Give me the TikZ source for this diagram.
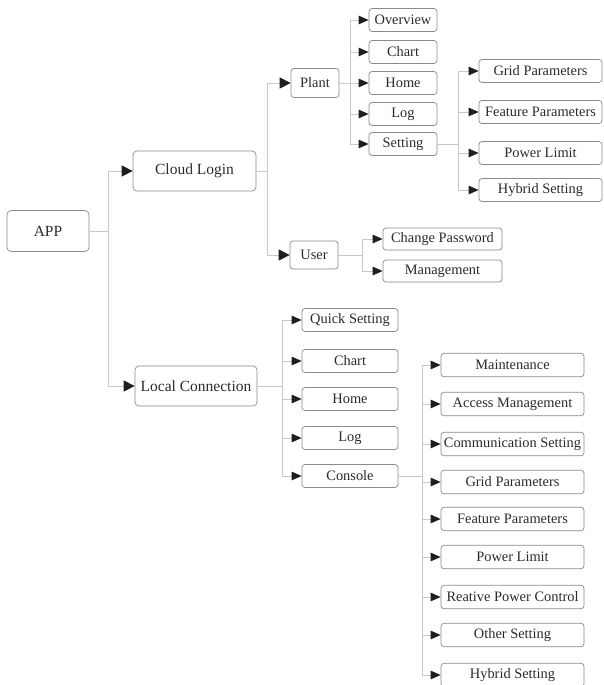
\documentclass[tikz,border=0pt]{standalone}
\usepackage{fontspec}
\setmainfont{Liberation Serif}
\usepackage{tikz}
\usetikzlibrary{arrows.meta}
\definecolor{appink}{HTML}{2B2B2B}
\definecolor{appframe}{HTML}{8A8A8A}
\definecolor{appline}{HTML}{C8C8C8}
\definecolor{apptip}{HTML}{1E1E1E}

\begin{document}
\begin{tikzpicture}[x=1pt,y=-1pt,
    box/.style={draw=appframe,rounded corners=3pt,line width=0.7pt,inner xsep=1pt,inner ysep=0pt,text=appink,font=\fontsize{14.4}{16}\selectfont},
    mainbox/.style={box,rounded corners=4pt,font=\fontsize{15.5}{17}\selectfont},
    leafbox/.style={box,minimum width=68pt,minimum height=23pt},
    setbox/.style={box,minimum width=123pt,minimum height=23pt},
    userbox/.style={box,minimum width=119pt,minimum height=22pt},
    localbox/.style={box,minimum width=96pt,minimum height=23pt},
    consbox/.style={box,minimum width=143pt,minimum height=23.5pt},
    link/.style={draw=appline,line width=0.9pt,-{Triangle[length=10pt,width=8.5pt,color=apptip]}},
    biglink/.style={draw=appline,line width=0.9pt,-{Triangle[length=11pt,width=11pt,color=apptip]}}]
  \useasboundingbox[fill=white] (0,0) rectangle (604,685);

  % top levels
  \node[mainbox,minimum width=82pt,minimum height=41pt] (app) at (48,231) {APP};
  \node[mainbox,minimum width=123pt,minimum height=40pt] (cloud) at (194.5,171) {Cloud Login};
  \node[mainbox,minimum width=122pt,minimum height=40pt] (local) at (196,386) {Local Connection};
  \node[box,minimum width=48pt,minimum height=29pt] (plant) at (315,83) {Plant};
  \node[box,minimum width=48pt,minimum height=28pt] (user) at (314,255) {User};

  \foreach \n in {cloud,local} \draw[biglink] (app.east) -- ++(19,0) |- (\n.west);
  \foreach \n in {plant,user} \draw[biglink] (cloud.east) -- ++(11,0) |- (\n.west);

  % plant
  \foreach \n/\t/\y in {overview/Overview/20,pchart/Chart/52,phome/Home/83,plog/Log/114,setting/Setting/144}
    \node[leafbox] (\n) at (403,\y) {\t};
  \foreach \n in {overview,pchart,phome,plog,setting} \draw[link] (plant.east) -- ++(11,0) |- (\n.west);

  \foreach \n/\t/\y in {sgrid/Grid Parameters/71,sfeat/Feature Parameters/112,slimit/Power Limit/153,shybrid/Hybrid Setting/190}
    \node[setbox] (\n) at (540.5,\y) {\t};
  \foreach \n in {sgrid,sfeat,slimit,shybrid} \draw[link] (setting.east) -- ++(21,0) |- (\n.west);

  % user
  \node[userbox] (passwd) at (442.5,239) {Change Password};
  \node[userbox] (manage) at (442.5,271) {Management};
  \foreach \n in {passwd,manage} \draw[link] (user.east) -- ++(24,0) |- (\n.west);

  % local connection
  \foreach \n/\t/\y in {quick/Quick Setting/320,lchart/Chart/361,lhome/Home/399,llog/Log/438,console/Console/476}
    \node[localbox] (\n) at (350,\y) {\t};
  \foreach \n in {quick,lchart,lhome,llog,console} \draw[link] (local.east) -- ++(25,0) |- (\n.west);

  \foreach \n/\t/\y in {maint/Maintenance/365,access/Access Management/404,comm/Communication Setting/444,cgrid/Grid Parameters/482,cfeat/Feature Parameters/519,climit/Power Limit/557,react/Reative Power Control/597,other/Other Setting/635,chybrid/Hybrid Setting/675}
    \node[consbox] (\n) at (512.5,\y) {\t};
  \foreach \n in {maint,access,comm,cgrid,cfeat,climit,react,other,chybrid} \draw[link] (console.east) -- ++(24,0) |- (\n.west);
\end{tikzpicture}
\end{document}
